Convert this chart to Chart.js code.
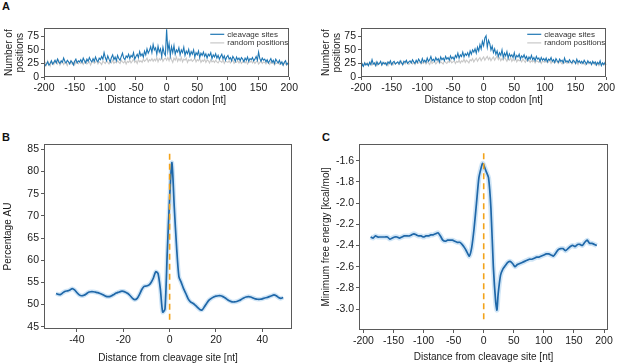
<!DOCTYPE html>
<html>
<head>
<meta charset="utf-8">
<script src="https://cdn.jsdelivr.net/npm/chart.js@4.4.0/dist/chart.umd.min.js"></script>
<style>
body { margin: 0; width: 617px; height: 363px; background: #fff; position: relative; overflow: hidden; font-family: "Liberation Sans", Arial, sans-serif; }
canvas { position: absolute; }
.panel { position: absolute; font-weight: bold; font-size: 11px; color: #111; }
</style>
</head>
<body>
<div class="panel" style="left:2px;top:0px">A</div>
<div class="panel" style="left:2px;top:131px">B</div>
<div class="panel" style="left:322px;top:131px">C</div>
<canvas id="chartA1" width="300" height="90" style="left:0;top:20px"></canvas>
<canvas id="chartA2" width="312" height="90" style="left:305px;top:20px"></canvas>
<canvas id="chartB" width="305" height="233" style="left:0;top:130px"></canvas>
<canvas id="chartC" width="312" height="233" style="left:305px;top:130px"></canvas>
<script>
// Panel A: posicoes de -200 a 200 nt, passo 2
const inicioA = -200;
const passoA = 2;
const ticksXA = [-200, -150, -100, -50, 0, 50, 100, 150, 200];
const ticksYA = [0, 25, 50, 75];

const startCleavage = [
    26, 21, 24, 28, 22, 25, 30, 24, 27, 31,
    26, 33, 28, 25, 30, 27, 35, 29, 26, 31,
    28, 24, 30, 27, 22, 29, 33, 26, 30, 28,
    32, 27, 35, 30, 26, 33, 29, 36, 31, 28,
    34, 29, 37, 31, 28, 35, 32, 38, 33, 45,
    36, 30, 39, 33, 28, 36, 41, 32, 37, 30,
    40, 34, 31, 38, 44, 35, 32, 39, 36, 42,
    34, 40, 37, 45, 33, 38, 42, 36, 47, 39,
    43, 37, 48, 41, 52, 44, 49, 56, 45, 60,
    50, 54, 42, 57, 46, 52, 38, 55, 44, 40,
    88, 48, 62, 40, 56, 45, 58, 42, 50, 46,
    54, 41, 50, 45, 55, 40, 48, 43, 51, 39,
    47, 42, 50, 37, 45, 41, 48, 36, 44, 40,
    46, 38, 43, 35, 42, 39, 45, 34, 41, 37,
    43, 35, 40, 33, 38, 42, 34, 39, 31, 37,
    40, 33, 36, 30, 38, 34, 29, 37, 32, 35,
    30, 36, 33, 28, 35, 31, 37, 29, 34, 32,
    36, 30, 33, 38, 31, 46, 34, 29, 35, 31,
    33, 28, 32, 26, 30, 34, 27, 31, 25, 33,
    29, 26, 31, 24, 28, 22, 27, 30, 23, 26,
    24
];
const startRandom = [
    24, 27, 22, 30, 25, 20, 28, 26, 23, 29,
    27, 24, 31, 22, 26, 29, 23, 27, 25, 21,
    28, 25, 30, 24, 27, 22, 29, 26, 24, 28,
    25, 29, 23, 27, 30, 24, 26, 28, 22, 27,
    29, 25, 27, 31, 24, 28, 26, 23, 29, 27,
    25, 30, 27, 24, 29, 26, 31, 25, 28, 26,
    30, 27, 25, 31, 28, 26, 30, 24, 29, 27,
    31, 26, 29, 33, 27, 30, 25, 32, 28, 30,
    27, 33, 29, 31, 35, 28, 32, 30, 34, 29,
    33, 30, 36, 28, 34, 31, 37, 29, 33, 35,
    31, 36, 30, 38, 32, 27, 35, 31, 37, 29,
    34, 30, 36, 28, 33, 31, 35, 27, 32, 30,
    33, 29, 31, 35, 28, 32, 30, 34, 27, 31,
    29, 33, 27, 31, 30, 26, 32, 28, 30, 27,
    31, 28, 26, 30, 29, 27, 32, 25, 29, 28,
    27, 30, 26, 29, 31, 25, 28, 27, 30, 26,
    29, 25, 28, 31, 26, 29, 24, 28, 27, 30,
    26, 29, 25, 28, 30, 24, 27, 29, 25, 28,
    27, 24, 29, 26, 23, 28, 25, 27, 22, 26,
    25, 28, 23, 26, 24, 21, 27, 24, 22, 25,
    23
];
const stopCleavage = [
    14, 24, 20, 26, 22, 25, 21, 27, 23, 32,
    24, 26, 21, 28, 23, 25, 29, 22, 27, 24,
    26, 22, 28, 25, 30, 23, 27, 29, 24, 26,
    28, 24, 30, 26, 23, 29, 27, 31, 25, 28,
    30, 26, 32, 28, 25, 31, 27, 33, 29, 26,
    34, 28, 31, 27, 35, 29, 32, 38, 30, 33,
    29, 36, 31, 34, 28, 37, 32, 35, 30, 38,
    33, 36, 31, 39, 34, 37, 32, 40, 36, 44,
    35, 41, 38, 46, 37, 43, 40, 45, 38, 48,
    42, 50, 46, 52, 44, 55, 48, 60, 52, 66,
    58, 72, 76, 55, 68, 62, 50, 57, 45, 52,
    42, 48, 38, 45, 40, 50, 36, 44, 39, 47,
    35, 43, 38, 41, 36, 45, 34, 40, 37, 42,
    33, 39, 36, 41, 34, 38, 31, 37, 33, 40,
    32, 36, 30, 38, 33, 35, 29, 36, 31, 34,
    30, 35, 28, 33, 31, 36, 29, 32, 27, 34,
    30, 27, 33, 29, 31, 26, 35, 28, 30, 27,
    32, 28, 26, 31, 29, 25, 33, 27, 30, 26,
    29, 25, 31, 27, 24, 30, 26, 28, 23, 29,
    25, 28, 22, 27, 24, 30, 21, 26, 23, 27,
    22
];
const stopRandom = [
    22, 25, 20, 27, 23, 26, 21, 24, 28, 22,
    25, 23, 27, 21, 26, 24, 28, 22, 25, 27,
    23, 26, 21, 28, 24, 25, 22, 27, 24, 26,
    27, 23, 25, 29, 22, 26, 24, 28, 25, 23,
    26, 28, 24, 27, 23, 29, 25, 26, 28, 24,
    27, 25, 29, 24, 28, 26, 23, 30, 25, 27,
    29, 24, 27, 31, 25, 28, 26, 24, 30, 27,
    25, 29, 27, 31, 26, 28, 30, 25, 29, 27,
    31, 26, 30, 28, 33, 27, 31, 29, 26, 32,
    30, 34, 28, 32, 35, 29, 33, 36, 30, 34,
    37, 31, 35, 38, 32, 36, 30, 34, 37, 31,
    35, 39, 32, 36, 30, 34, 31, 37, 33, 29,
    34, 31, 36, 29, 33, 30, 35, 28, 32, 30,
    31, 28, 33, 30, 27, 32, 29, 31, 27, 30,
    28, 31, 26, 30, 29, 27, 31, 25, 29, 28,
    27, 30, 26, 28, 31, 25, 29, 27, 26, 30,
    28, 25, 29, 27, 24, 28, 26, 29, 25, 27,
    26, 28, 24, 27, 29, 25, 27, 23, 28, 26,
    24, 27, 25, 22, 26, 28, 24, 26, 23, 27,
    25, 22, 26, 24, 21, 25, 23, 26, 22, 24,
    23
];

// Panel B: -49 a 49 nt, passo 1
const inicioB = -49;
const ticksXB = [-40, -20, 0, 20, 40];
const ticksYB = [45, 50, 55, 60, 65, 70, 75, 80, 85];
const percentAU = [
    52.5, 52.3, 52.3, 52.7, 53.0, 53.1, 53.3, 53.6, 53.3, 52.7,
    52.2, 52.0, 52.1, 52.4, 52.8, 52.9, 52.9, 52.8, 52.7, 52.5,
    52.3, 52.0, 51.8, 51.8, 52.0, 52.3, 52.6, 52.8, 53.0, 53.0,
    52.8, 52.5, 52.0, 51.4, 51.1, 51.4, 52.3, 53.4, 54.1, 54.2,
    54.4, 55.0, 56.0, 57.4, 57.0, 53.5, 48.3, 49.0, 62.0, 74.0,
    82.0, 72.0, 63.0, 56.3, 55.0, 53.6, 52.5, 51.3, 50.6, 50.3,
    49.9, 49.4, 48.9, 48.8, 49.5, 50.3, 51.0, 51.4, 51.7, 51.9,
    52.0, 52.0, 51.8, 51.5, 51.1, 50.8, 50.6, 50.6, 50.7, 50.9,
    51.2, 51.5, 51.7, 51.8, 51.7, 51.5, 51.3, 51.2, 51.2, 51.3,
    51.5, 51.6, 51.8, 52.0, 52.2, 52.0, 51.6, 51.4, 51.6
];
const dashB = [84, 46];

// Panel C
const ticksXC = [-200, -150, -100, -50, 0, 50, 100, 150, 200];
const ticksYC = [-3.0, -2.8, -2.6, -2.4, -2.2, -2.0, -1.8, -1.6];
const posC = [
    -188, -184, -180, -176, -172, -168, -164, -160, -156, -152,
    -148, -144, -140, -136, -132, -128, -124, -120, -116, -112,
    -108, -104, -100, -96, -92, -88, -84, -80, -76, -72,
    -68, -64, -60, -56, -52, -48, -44, -40, -36, -32,
    -28, -24, -20, -16, -12, -8, -4, -2, 0, 4,
    8, 12, 16, 20, 22, 24, 28, 32, 36, 40,
    44, 48, 52, 56, 60, 64, 68, 72, 76, 80,
    84, 88, 92, 96, 100, 104, 108, 112, 116, 120,
    124, 128, 132, 136, 140, 144, 148, 152, 156, 160,
    164, 168, 172, 176, 180, 184, 188
];
const energiaMin = [
    -2.32, -2.33, -2.31, -2.32, -2.32, -2.32, -2.32, -2.32, -2.34, -2.33,
    -2.32, -2.32, -2.33, -2.32, -2.31, -2.31, -2.31, -2.30, -2.29, -2.30,
    -2.31, -2.31, -2.32, -2.31, -2.31, -2.30, -2.30, -2.29, -2.28, -2.31,
    -2.35, -2.36, -2.35, -2.35, -2.35, -2.36, -2.37, -2.37, -2.39, -2.42,
    -2.46, -2.50, -2.42, -2.24, -2.00, -1.76, -1.66, -1.625, -1.64, -1.70,
    -1.76, -2.05, -2.60, -2.94, -3.01, -2.86, -2.68, -2.62, -2.59, -2.56,
    -2.55, -2.57, -2.60, -2.58, -2.57, -2.56, -2.55, -2.54, -2.53, -2.53,
    -2.52, -2.51, -2.51, -2.50, -2.49, -2.48, -2.48, -2.49, -2.50, -2.47,
    -2.44, -2.43, -2.43, -2.45, -2.43, -2.41, -2.40, -2.41, -2.39, -2.39,
    -2.40, -2.37, -2.35, -2.38, -2.38, -2.39, -2.40
];
const dashC = [-1.53, -3.12];

const azulA = '#1f77b4';
const cinza = '#c8c8c8';
const azul = '#1f67a8';
const faixa = 'rgba(150, 198, 236, 0.45)';
const laranja = '#f2a31b';
const fonte = '"Liberation Sans", Arial, sans-serif';

// Moldura cinza em volta da area do grafico
const moldura = {
    id: 'moldura',
    afterDraw(chart) {
        const a = chart.chartArea;
        const ctx = chart.ctx;
        ctx.save();
        ctx.strokeStyle = '#5a5a5a';
        ctx.lineWidth = 1;
        ctx.strokeRect(Math.round(a.left) + 0.5, Math.round(a.top) + 0.5,
            Math.round(a.right - a.left) - 1, Math.round(a.bottom - a.top) - 1);
        ctx.restore();
    }
};

// Legenda pequena dentro do grafico (painel A)
const legendaA = {
    id: 'legendaA',
    afterDraw(chart) {
        const a = chart.chartArea;
        const ctx = chart.ctx;
        ctx.save();
        ctx.font = '8px ' + fonte;
        ctx.textBaseline = 'middle';
        chart.data.datasets.forEach((ds, i) => {
            const y = a.top + 6 + i * 8.6;
            ctx.strokeStyle = ds.borderColor;
            ctx.lineWidth = 1.2;
            ctx.beginPath();
            ctx.moveTo(a.right - 79, y);
            ctx.lineTo(a.right - 65, y);
            ctx.stroke();
            ctx.fillStyle = '#333';
            ctx.fillText(ds.label, a.right - 62, y);
        });
        ctx.restore();
    }
};

function pontos(xs, ys) {
    return ys.map((v, i) => ({ x: xs[i], y: v }));
}

function posicoes(inicio, passo, n) {
    const arr = [];
    for (let i = 0; i < n; i++) arr.push(inicio + i * passo);
    return arr;
}

function eixos(cfg) {
    return {
        x: {
            type: 'linear',
            min: cfg.xmin, max: cfg.xmax,
            afterBuildTicks: s => { s.ticks = cfg.ticksX.map(v => ({ value: v })); },
            afterFit: s => { s.height = cfg.xh; },
            grid: { drawOnChartArea: false, tickLength: 3, color: '#5a5a5a' },
            border: { display: false },
            ticks: { font: { size: 10.5, family: fonte }, color: '#1a1a1a', padding: 2, maxRotation: 0, autoSkip: false },
            title: { display: true, text: cfg.xtitle, font: { size: 10, family: fonte, lineHeight: 1 }, color: '#1a1a1a', padding: { top: 0, bottom: cfg.xtp } }
        },
        y: {
            type: 'linear',
            min: cfg.ymin, max: cfg.ymax,
            afterBuildTicks: s => { s.ticks = cfg.ticksY.map(v => ({ value: v })); },
            afterFit: s => { s.width = cfg.yw; },
            grid: { drawOnChartArea: false, tickLength: 3, color: '#5a5a5a' },
            border: { display: false },
            ticks: { font: { size: 10.5, family: fonte }, color: '#1a1a1a', padding: 2, autoSkip: false,
                callback: v => cfg.dec ? v.toFixed(1) : v },
            title: { display: true, text: cfg.ytitle, font: { size: 10, family: fonte, lineHeight: cfg.ylh || 1 }, color: '#1a1a1a', padding: { top: cfg.ytp, bottom: 0 } }
        }
    };
}

function graficoA(id, xTitulo, cleavage, random, padRight) {
    const xs = posicoes(inicioA, passoA, cleavage.length);
    new Chart(document.getElementById(id), {
        type: 'line',
        data: {
            datasets: [
                { label: 'cleavage sites', data: pontos(xs, cleavage), borderColor: azulA, borderWidth: 1.1, pointRadius: 0, tension: 0 },
                { label: 'random positions', data: pontos(xs, random), borderColor: cinza, borderWidth: 1.1, pointRadius: 0, tension: 0 }
            ]
        },
        options: {
            responsive: false,
            animation: false,
            layout: { padding: { top: 8, right: padRight, left: 0, bottom: 0 } },
            plugins: { legend: { display: false }, tooltip: { enabled: false } },
            scales: eixos({
                xmin: -200, xmax: 200, ticksX: ticksXA, xh: 33, xtitle: xTitulo, xtp: 5,
                ymin: 0, ymax: 90, ticksY: ticksYA, yw: id === 'chartA1' ? 44 : 56,
                ytitle: ['Number of', 'positions'], ylh: 1.1, ytp: id === 'chartA1' ? 4 : 16
            })
        },
        plugins: [moldura, legendaA]
    });
}

graficoA('chartA1', 'Distance to start codon [nt]', startCleavage, startRandom, 8);
graficoA('chartA2', 'Distance to stop codon [nt]', stopCleavage, stopRandom, 9);

// Painel B
const xsB = posicoes(inicioB, 1, percentAU.length);
new Chart(document.getElementById('chartB'), {
    type: 'line',
    data: {
        datasets: [
            { data: [{ x: 0, y: dashB[0] }, { x: 0, y: dashB[1] }], borderColor: laranja, borderWidth: 1.6, borderDash: [6, 4], pointRadius: 0 },
            { data: pontos(xsB, percentAU), borderColor: azul, borderWidth: 1.7, pointRadius: 0, tension: 0.25 },
            { data: pontos(xsB, percentAU), borderColor: faixa, borderWidth: 4.5, pointRadius: 0, tension: 0.25 }
        ]
    },
    options: {
        responsive: false,
        animation: false,
        layout: { padding: { top: 14, right: 13, left: 0, bottom: 0 } },
        plugins: { legend: { display: false }, tooltip: { enabled: false } },
        scales: eixos({
            xmin: -54.2, xmax: 52.8, ticksX: ticksXB, xh: 34, xtitle: 'Distance from cleavage site [nt]', xtp: 0,
            ymin: 44.5, ymax: 86.2, ticksY: ticksYB, yw: 44, ytitle: 'Percentage AU', ytp: 3
        })
    },
    plugins: [moldura]
});

// Painel C
new Chart(document.getElementById('chartC'), {
    type: 'line',
    data: {
        datasets: [
            { data: [{ x: 0, y: dashC[0] }, { x: 0, y: dashC[1] }], borderColor: laranja, borderWidth: 1.6, borderDash: [6, 4], pointRadius: 0 },
            { data: pontos(posC, energiaMin), borderColor: azul, borderWidth: 1.7, pointRadius: 0, tension: 0.2 },
            { data: pontos(posC, energiaMin), borderColor: faixa, borderWidth: 5, pointRadius: 0, tension: 0.2 }
        ]
    },
    options: {
        responsive: false,
        animation: false,
        layout: { padding: { top: 14, right: 9, left: 0, bottom: 0 } },
        plugins: { legend: { display: false }, tooltip: { enabled: false } },
        scales: eixos({
            xmin: -207.3, xmax: 206.6, ticksX: ticksXC, xh: 33, xtitle: 'Distance from cleavage site [nt]', xtp: 1,
            ymin: -3.198, ymax: -1.442, ticksY: ticksYC, yw: 54, ytitle: 'Minimum free energy [kcal/mol]', ytp: 16, dec: true
        })
    },
    plugins: [moldura]
});
</script>
</body>
</html>
